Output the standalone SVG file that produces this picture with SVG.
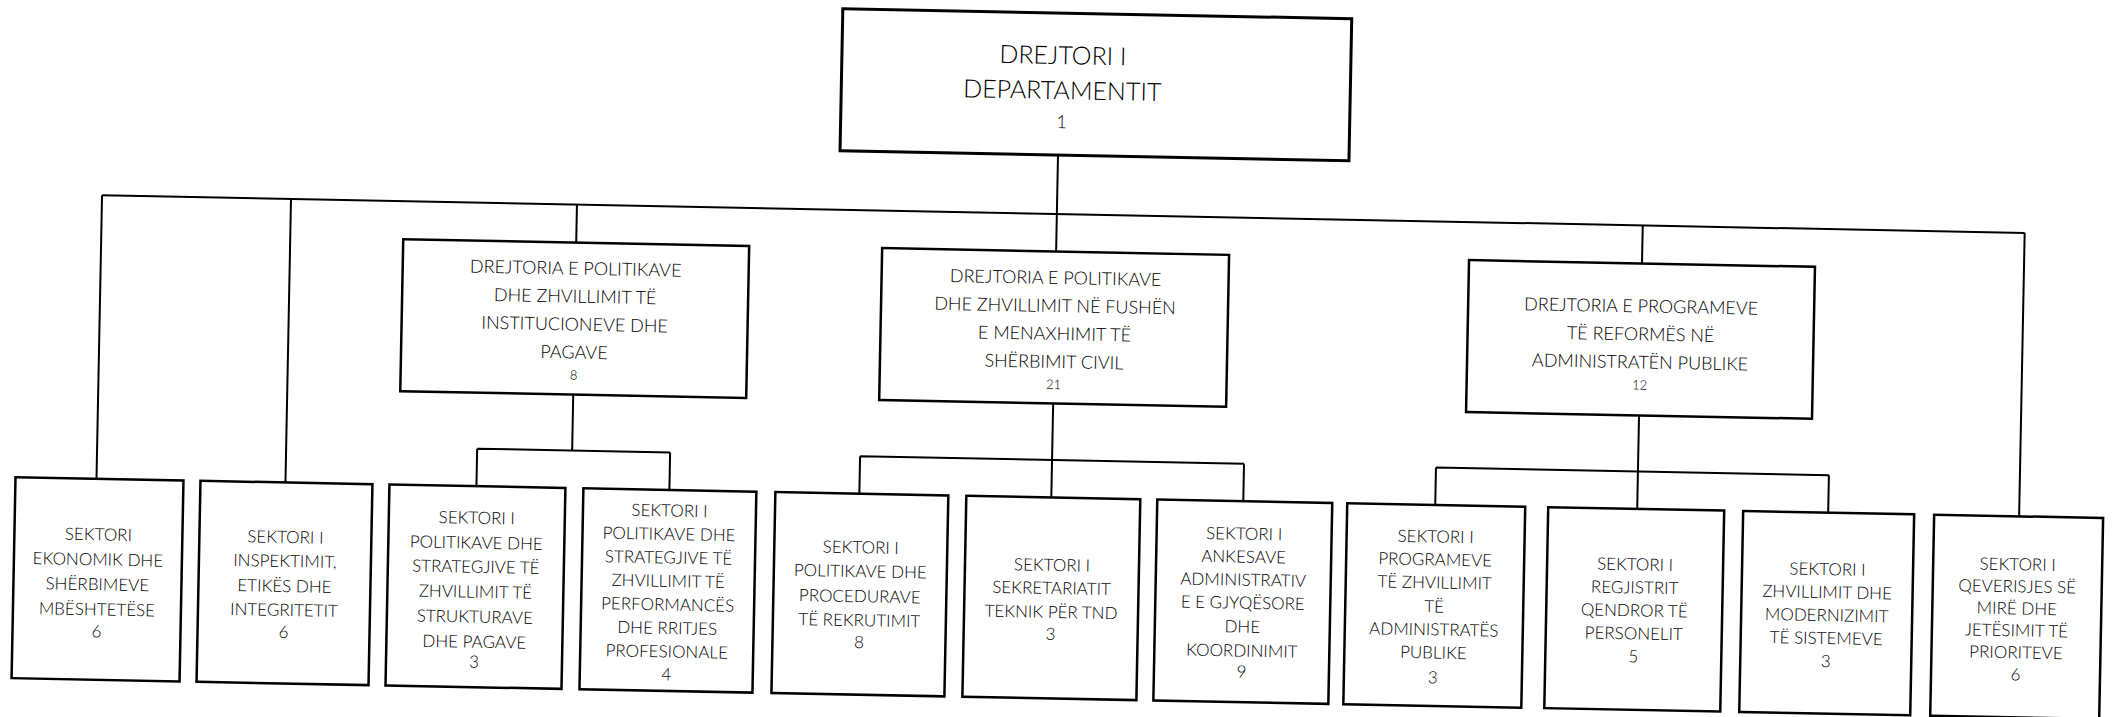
<svg xmlns="http://www.w3.org/2000/svg" width="2112" height="717" viewBox="0 0 2112 717">
<style>
.bx{fill:#fff;stroke:#000;stroke-width:2.5}
.top{fill:#fff;stroke:#000;stroke-width:3}
.ln{fill:none;stroke:#000;stroke-width:2}
text{font-family:Lato,"Open Sans","Liberation Sans",sans-serif;font-weight:300;fill:#000;text-anchor:middle}
.t0{font-size:25px}
.n0{font-size:18px}
.t1{font-size:18px}
.n1{font-size:13px}
.t2{font-size:17px}
</style>
<rect width="2112" height="717" fill="#fff"/>
<g transform="rotate(1.12 1056 360)">
<g id="connectors">
<path class="ln" d="M1054 155V251.5M1054 403.5V497.5"/>
<path class="ln" d="M99 214H2022"/>
<path class="ln" d="M99 214V497.5M288 214V497.5M574 214V251.5M1640 214V252M2022 214V497.5"/>
<path class="ln" d="M574 404V460M479 460H672M479 460V497.5M672 460V497.5"/>
<path class="ln" d="M862 460H1246M862 460V497.5M1246 460V497.5"/>
<path class="ln" d="M1640 404V497.5M1438 460H1831M1438 460V497.5M1831 460V497.5"/>
</g>
<g id="n-top">
<rect class="top" x="836" y="13" width="509" height="142"/>
<text class="t0" x="1057" y="64">DREJTORI I</text>
<text class="t0" x="1057" y="99">DEPARTAMENTIT</text>
<text class="n0" x="1057" y="128">1</text>
</g>
<g id="n-d1">
<rect class="bx" x="401" y="252" width="346" height="152"/>
<text class="t1" x="574" y="284">DREJTORIA E POLITIKAVE</text>
<text class="t1" x="574" y="312">DHE ZHVILLIMIT TË</text>
<text class="t1" x="574" y="340">INSTITUCIONEVE DHE</text>
<text class="t1" x="574" y="368">PAGAVE</text>
<text class="n1" x="574" y="389">8</text>
</g>
<g id="n-d2">
<rect class="bx" x="880" y="251.5" width="347" height="152"/>
<text class="t1" x="1054" y="284">DREJTORIA E POLITIKAVE</text>
<text class="t1" x="1054" y="312">DHE ZHVILLIMIT NË FUSHËN</text>
<text class="t1" x="1054" y="340">E MENAXHIMIT TË</text>
<text class="t1" x="1054" y="368">SHËRBIMIT CIVIL</text>
<text class="n1" x="1054" y="389">21</text>
</g>
<g id="n-d3">
<rect class="bx" x="1467" y="252" width="346" height="152"/>
<text class="t1" x="1640" y="301">DREJTORIA E PROGRAMEVE</text>
<text class="t1" x="1640" y="329">TË REFORMËS NË</text>
<text class="t1" x="1640" y="357">ADMINISTRATËN PUBLIKE</text>
<text class="n1" x="1640" y="378">12</text>
</g>
<g id="n-b1">
<rect class="bx" x="18" y="497.5" width="168" height="201"/>
<text class="t2" x="102" y="559">SEKTORI</text>
<text class="t2" x="102" y="584">EKONOMIK DHE</text>
<text class="t2" x="102" y="609">SHËRBIMEVE</text>
<text class="t2" x="102" y="634">MBËSHTETËSE</text>
<text class="t2" x="102" y="656">6</text>
</g>
<g id="n-b2">
<rect class="bx" x="203" y="497.5" width="172" height="201"/>
<text class="t2" x="289" y="558">SEKTORI I</text>
<text class="t2" x="289" y="582">INSPEKTIMIT,</text>
<text class="t2" x="289" y="607">ETIKËS DHE</text>
<text class="t2" x="289" y="631">INTEGRITETIT</text>
<text class="t2" x="289" y="653">6</text>
</g>
<g id="n-b3">
<rect class="bx" x="392" y="497.5" width="176" height="201"/>
<text class="t2" x="480" y="535">SEKTORI I</text>
<text class="t2" x="480" y="560">POLITIKAVE DHE</text>
<text class="t2" x="480" y="584">STRATEGJIVE TË</text>
<text class="t2" x="480" y="609">ZHVILLIMIT TË</text>
<text class="t2" x="480" y="634">STRUKTURAVE</text>
<text class="t2" x="480" y="659">DHE PAGAVE</text>
<text class="t2" x="480" y="679">3</text>
</g>
<g id="n-b4">
<rect class="bx" x="586" y="497.5" width="173" height="201"/>
<text class="t2" x="672.5" y="524">SEKTORI I</text>
<text class="t2" x="672.5" y="547.5">POLITIKAVE DHE</text>
<text class="t2" x="672.5" y="571">STRATEGJIVE TË</text>
<text class="t2" x="672.5" y="594.5">ZHVILLIMIT TË</text>
<text class="t2" x="672.5" y="618">PERFORMANCËS</text>
<text class="t2" x="672.5" y="641.5">DHE RRITJES</text>
<text class="t2" x="672.5" y="665">PROFESIONALE</text>
<text class="t2" x="672.5" y="688">4</text>
</g>
<g id="n-b5">
<rect class="bx" x="778" y="497.5" width="173" height="201"/>
<text class="t2" x="864.5" y="557">SEKTORI I</text>
<text class="t2" x="864.5" y="581">POLITIKAVE DHE</text>
<text class="t2" x="864.5" y="606">PROCEDURAVE</text>
<text class="t2" x="864.5" y="630">TË REKRUTIMIT</text>
<text class="t2" x="864.5" y="652">8</text>
</g>
<g id="n-b6">
<rect class="bx" x="969" y="497.5" width="174" height="201"/>
<text class="t2" x="1056" y="571">SEKTORI I</text>
<text class="t2" x="1056" y="594">SEKRETARIATIT</text>
<text class="t2" x="1056" y="618">TEKNIK PËR TND</text>
<text class="t2" x="1056" y="640">3</text>
</g>
<g id="n-b7">
<rect class="bx" x="1160" y="497.5" width="175" height="201"/>
<text class="t2" x="1247.5" y="536">SEKTORI I</text>
<text class="t2" x="1247.5" y="559">ANKESAVE</text>
<text class="t2" x="1247.5" y="582">ADMINISTRATIV</text>
<text class="t2" x="1247.5" y="605">E E GJYQËSORE</text>
<text class="t2" x="1247.5" y="629">DHE</text>
<text class="t2" x="1247.5" y="653">KOORDINIMIT</text>
<text class="t2" x="1247.5" y="674">9</text>
</g>
<g id="n-b8">
<rect class="bx" x="1350" y="497.5" width="178" height="201"/>
<text class="t2" x="1439" y="535">SEKTORI I</text>
<text class="t2" x="1439" y="558">PROGRAMEVE</text>
<text class="t2" x="1439" y="581">TË ZHVILLIMIT</text>
<text class="t2" x="1439" y="605">TË</text>
<text class="t2" x="1439" y="628">ADMINISTRATËS</text>
<text class="t2" x="1439" y="651">PUBLIKE</text>
<text class="t2" x="1439" y="676">3</text>
</g>
<g id="n-b9">
<rect class="bx" x="1551" y="497.5" width="176" height="201"/>
<text class="t2" x="1639" y="559">SEKTORI I</text>
<text class="t2" x="1639" y="582">REGJISTRIT</text>
<text class="t2" x="1639" y="605">QENDROR TË</text>
<text class="t2" x="1639" y="628">PERSONELIT</text>
<text class="t2" x="1639" y="651">5</text>
</g>
<g id="n-b10">
<rect class="bx" x="1746" y="497.5" width="171" height="201"/>
<text class="t2" x="1831.5" y="560">SEKTORI I</text>
<text class="t2" x="1831.5" y="583">ZHVILLIMIT DHE</text>
<text class="t2" x="1831.5" y="606">MODERNIZIMIT</text>
<text class="t2" x="1831.5" y="629">TË SISTEMEVE</text>
<text class="t2" x="1831.5" y="652">3</text>
</g>
<g id="n-b11">
<rect class="bx" x="1937" y="497.5" width="169" height="201"/>
<text class="t2" x="2021.5" y="551.5">SEKTORI I</text>
<text class="t2" x="2021.5" y="573.5">QEVERISJES SË</text>
<text class="t2" x="2021.5" y="595.5">MIRË DHE</text>
<text class="t2" x="2021.5" y="617.5">JETËSIMIT TË</text>
<text class="t2" x="2021.5" y="639.5">PRIORITEVE</text>
<text class="t2" x="2021.5" y="661.5">6</text>
</g>
</g>
</svg>
